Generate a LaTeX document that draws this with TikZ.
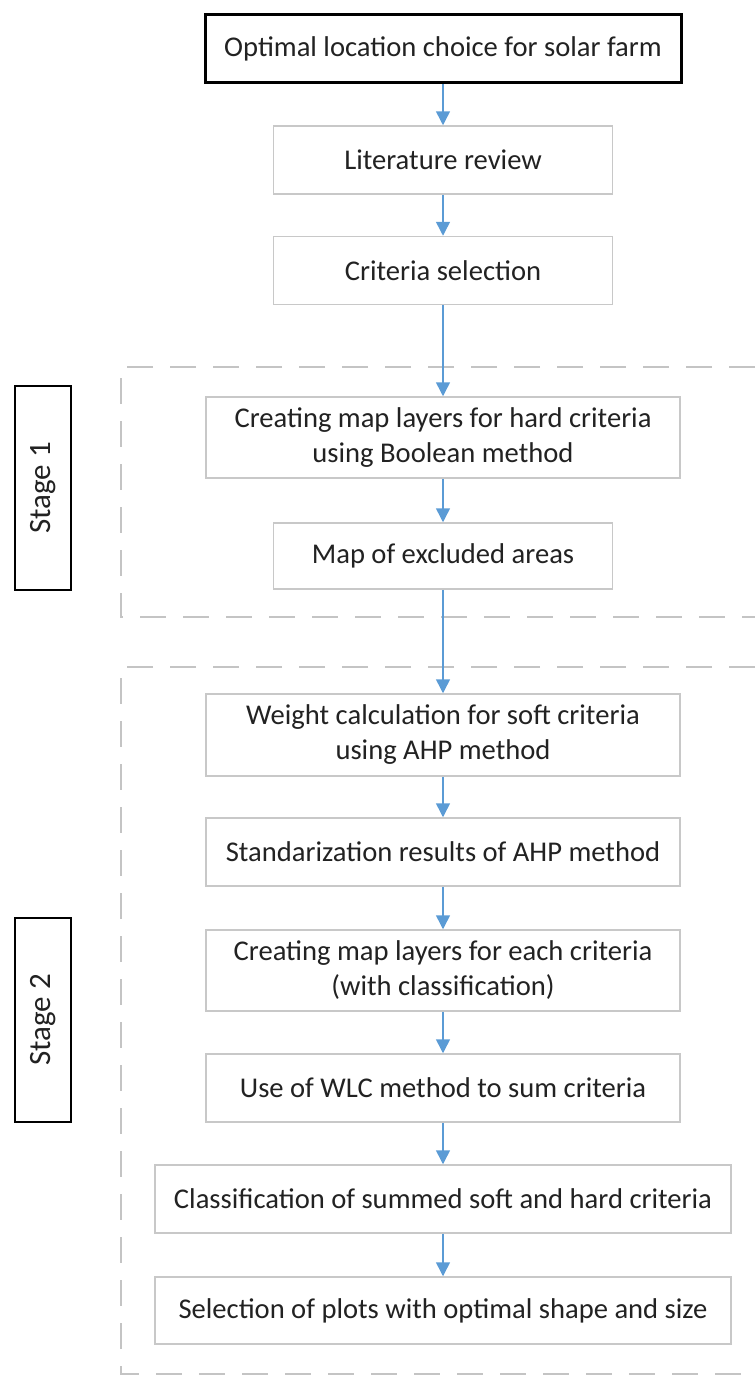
\documentclass[tikz,border=0pt]{standalone}
\usepackage{fontspec}
\setmainfont{Carlito}
\usepackage{tikz}
\usetikzlibrary{arrows.meta}
\definecolor{arrowblue}{HTML}{5B9BD5}
\definecolor{boxgray}{HTML}{C8C8C8}
\definecolor{dashgray}{HTML}{C4C4C4}
\definecolor{textgray}{HTML}{222222}
\tikzset{
   process/.style={draw=boxgray, line width=0.75pt, fill=white, text=textgray,
      align=center, inner sep=0pt, minimum height=34pt,
      font=\fontsize{14.3}{17.5}\selectfont},
   goal/.style={process, draw=black, line width=1.5pt},
   narrow/.style={minimum width=169.5pt},
   mid/.style={minimum width=237pt},
   wide/.style={minimum width=288pt},
   tall/.style={minimum height=40.5pt},
   stage/.style={draw=black, line width=1pt, inner sep=0pt, rotate=90,
      minimum width=102pt, minimum height=28pt, text=textgray,
      font=\fontsize{15.5}{18}\selectfont},
   flow/.style={draw=arrowblue, line width=0.75pt,
      -{Triangle[length=7pt,width=7pt]}},
   region/.style={draw=dashgray, line width=1pt, dash pattern=on 13pt off 8.5pt},
    }

\begin{document}
\begin{tikzpicture}[x=0.5pt, y=-0.5pt]
            \useasboundingbox (0,0) rectangle (755,1376);
            % dashed stage regions
            \draw[region](755,367)--(121,367)--(121,617)--(755,617);
            \draw[region](755,667)--(121,667)--(121,1374)--(755,1374);
            % stage labels
            \node[stage] (stage1) at (43,488) {Stage 1};
            \node[stage] (stage2) at (43,1020) {Stage 2};
            % flow boxes
            \node[goal, mid, minimum width=238pt] (goal) at (443,48.5) {Optimal location choice for solar farm};
            \node[process, narrow] (review) at (443,160) {Literature review};
            \node[process, narrow] (criteria) at (443,270.5) {Criteria selection};
            \node[process, mid, tall] (hard) at (443,437.5) {Creating map layers for hard criteria\\using Boolean method};
            \node[process, narrow, minimum height=33pt] (excluded) at (443,556) {Map of excluded areas};
            \node[process, mid, minimum height=41pt] (weight) at (443,735) {Weight calculation for soft criteria\\using AHP method};
            \node[process, mid] (standard) at (443,852) {Standarization results of AHP method};
            \node[process, mid, tall] (layers) at (443,970.5) {Creating map layers for each criteria\\(with classification)};
            \node[process, mid] (wlc) at (443,1088) {Use of WLC method to sum criteria};
            \node[process, wide] (classify) at (443,1199) {Classification of summed soft and hard criteria};
            \node[process, wide, minimum height=33.5pt] (plots) at (443,1310.5) {Selection of plots with optimal shape and size};
            % arrows
            \draw[flow](goal.south)to(review.north);
            \draw[flow](review.south)to(criteria.north);
            \draw[flow](criteria.south)to(hard.north);
            \draw[flow](hard.south)to(excluded.north);
            \draw[flow](excluded.south)to(weight.north);
            \draw[flow](weight.south)to(standard.north);
            \draw[flow](standard.south)to(layers.north);
            \draw[flow](layers.south)to(wlc.north);
            \draw[flow](wlc.south)to(classify.north);
            \draw[flow](classify.south)to(plots.north);
        \end{tikzpicture}
\end{document}
